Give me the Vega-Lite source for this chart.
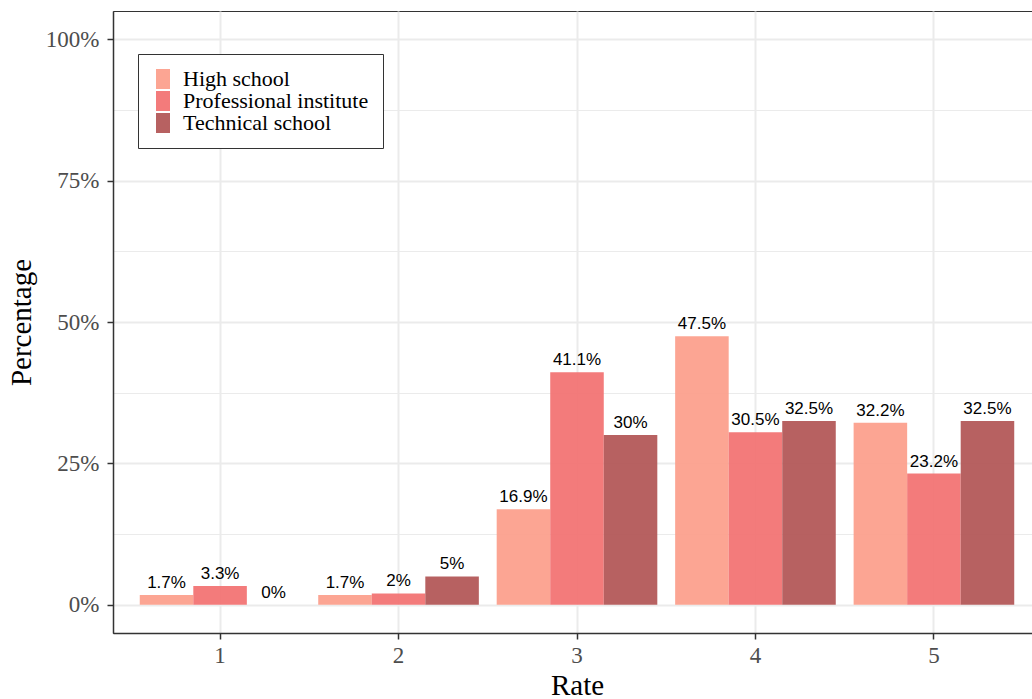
{
  "$schema": "https://vega.github.io/schema/vega-lite/v6.json",
  "width": 928,
  "height": 622,
  "autosize": {"type": "none"},
  "padding": {"left": 113, "top": 11, "right": 0, "bottom": 66},
  "background": "white",
  "config": {
    "view": {"stroke": "#333333", "strokeWidth": 1},
    "axis": {
      "labelFont": "Liberation Serif",
      "labelFontSize": 23,
      "labelColor": "#4D4D4D",
      "titleFont": "Liberation Serif",
      "titleFontSize": 29,
      "titleFontWeight": "normal",
      "titleColor": "#000000",
      "tickColor": "#333333",
      "tickSize": 6,
      "tickWidth": 1.5,
      "domainColor": "#333333",
      "domainWidth": 1.5,
      "gridColor": "#EBEBEB",
      "gridWidth": 2
    }
  },
  "data": {
    "values": [
      {"rate": "1", "school": "High school", "value": 0.017},
      {"rate": "1", "school": "Professional institute", "value": 0.033},
      {"rate": "1", "school": "Technical school", "value": 0.0},
      {"rate": "2", "school": "High school", "value": 0.017},
      {"rate": "2", "school": "Professional institute", "value": 0.02},
      {"rate": "2", "school": "Technical school", "value": 0.05},
      {"rate": "3", "school": "High school", "value": 0.169},
      {"rate": "3", "school": "Professional institute", "value": 0.411},
      {"rate": "3", "school": "Technical school", "value": 0.30},
      {"rate": "4", "school": "High school", "value": 0.475},
      {"rate": "4", "school": "Professional institute", "value": 0.305},
      {"rate": "4", "school": "Technical school", "value": 0.325},
      {"rate": "5", "school": "High school", "value": 0.322},
      {"rate": "5", "school": "Professional institute", "value": 0.232},
      {"rate": "5", "school": "Technical school", "value": 0.325}
    ]
  },
  "encoding": {
    "x": {
      "field": "rate",
      "type": "nominal",
      "scale": {"paddingInner": 0.1, "paddingOuter": 0.15},
      "axis": {
        "title": "Rate",
        "labelAngle": 0,
        "bandPosition": 0.5,
        "grid": true,
        "labelPadding": 5,
        "titlePadding": 4
      }
    },
    "xOffset": {
      "field": "school",
      "type": "nominal",
      "scale": {"paddingInner": 0, "paddingOuter": 0},
      "sort": ["High school", "Professional institute", "Technical school"]
    }
  },
  "layer": [
    {
      "mark": {"type": "bar", "opacity": 0.95},
      "encoding": {
        "y": {
          "field": "value",
          "type": "quantitative",
          "scale": {"domain": [-0.05, 1.05], "nice": false, "zero": false},
          "axis": {
            "title": "Percentage",
            "values": [0, 0.25, 0.5, 0.75, 1],
            "format": ".0%",
            "grid": true,
            "labelPadding": 8,
            "titlePadding": 9
          }
        },
        "y2": {"datum": 0},
        "color": {
          "field": "school",
          "type": "nominal",
          "scale": {
            "domain": ["High school", "Professional institute", "Technical school"],
            "range": ["#FCA08D", "#F27474", "#B35858"]
          },
          "legend": {
            "title": null,
            "orient": "none",
            "legendX": 25,
            "legendY": 43,
            "strokeColor": "#333333",
            "fillColor": "white",
            "padding": 14,
            "labelFont": "Liberation Serif",
            "labelFontSize": 22,
            "labelColor": "#000000",
            "labelOffset": 9,
            "labelLimit": 400,
            "symbolType": "M-0.7,-1H0.7V1H-0.7Z",
            "symbolSize": 400,
            "symbolStrokeWidth": 0,
            "symbolOpacity": 0.95,
            "rowPadding": 0
          }
        }
      }
    },
    {
      "mark": {
        "type": "text",
        "font": "Liberation Sans",
        "fontSize": 17,
        "color": "#000000",
        "baseline": "bottom",
        "dy": -3
      },
      "encoding": {
        "y": {
          "field": "value",
          "type": "quantitative",
          "axis": {
            "orient": "right",
            "values": [0.125, 0.375, 0.625, 0.875],
            "grid": true,
            "gridWidth": 1,
            "labels": false,
            "ticks": false,
            "domain": false,
            "title": null
          }
        },
        "text": {"field": "value", "type": "quantitative", "format": ".3~%"}
      }
    }
  ],
  "resolve": {"axis": {"y": "independent"}}
}
